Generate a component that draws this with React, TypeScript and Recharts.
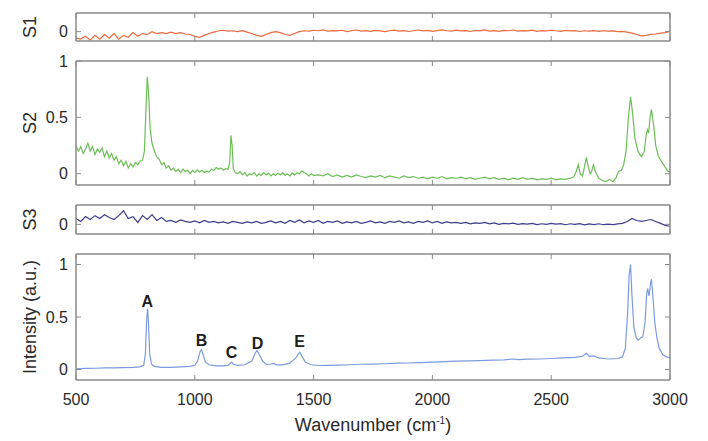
import React from 'react';
import { ComposedChart, Line, XAxis, YAxis, Scatter, Label } from 'recharts';

const FONT = '"Liberation Sans", Arial, sans-serif';
const AXIS = '#8a8a8a';
const TXT = '#2a2a2a';

const xTicks = [500, 1000, 1500, 2000, 2500, 3000];
const smallTicks = [0];
const s2Ticks = [0, 0.5, 1];
const mainTicks = [0, 0.5, 1];

// wavenumber grid (cm^-1) for the noisy residual spectra
const wn20 = [
  500, 520, 540, 560, 580, 600, 620, 640, 660, 680,
  700, 720, 740, 760, 780, 800, 820, 840, 860, 880,
  900, 920, 940, 960, 980, 1000, 1020, 1040, 1060, 1080,
  1100, 1120, 1140, 1160, 1180, 1200, 1220, 1240, 1260, 1280,
  1300, 1320, 1340, 1360, 1380, 1400, 1420, 1440, 1460, 1480,
  1500, 1520, 1540, 1560, 1580, 1600, 1620, 1640, 1660, 1680,
  1700, 1720, 1740, 1760, 1780, 1800, 1820, 1840, 1860, 1880,
  1900, 1920, 1940, 1960, 1980, 2000, 2020, 2040, 2060, 2080,
  2100, 2120, 2140, 2160, 2180, 2200, 2220, 2240, 2260, 2280,
  2300, 2320, 2340, 2360, 2380, 2400, 2420, 2440, 2460, 2480,
  2500, 2520, 2540, 2560, 2580, 2600, 2620, 2640, 2660, 2680,
  2700, 2720, 2740, 2760, 2780, 2800, 2820, 2840, 2860, 2880,
  2900, 2920, 2940, 2960, 2980, 3000,
];

const s1Values = [
  -0.07, -0.08, -0.05, -0.09, -0.04, -0.08, -0.03, -0.07, -0.02, -0.08,
  -0.04, -0.06, -0.01, -0.05, -0.02, -0.03, 0.0, -0.02, -0.01, -0.02,
  -0.005, -0.02, -0.01, -0.025, -0.03, -0.05, -0.06, -0.04, -0.02, -0.005,
  0.01, 0.015, 0.005, 0.01, 0.0, 0.01, -0.005, -0.02, -0.04, -0.05,
  -0.03, -0.01, 0.0, -0.01, -0.03, -0.04, -0.02, 0.0, 0.01, 0.005,
  0.015, 0.01, 0.02, 0.005, 0.012, 0.008, 0.015, 0.0, 0.01, 0.018,
  0.006, 0.012, 0.004, 0.014, 0.008, 0.0, 0.01, 0.016, 0.006, 0.012,
  0.002, 0.01, 0.018, 0.008, 0.014, 0.004, 0.012, 0.02, 0.01, 0.006,
  0.016, 0.008, 0.012, 0.002, 0.014, 0.008, 0.018, 0.006, 0.012, 0.004,
  0.014, 0.01, 0.018, 0.006, 0.012, 0.008, 0.016, 0.004, 0.012, 0.008,
  0.015, 0.01, 0.004, 0.014, 0.008, 0.012, 0.002, 0.01, 0.006, 0.012,
  0.004, 0.01, 0.006, 0.008, 0.0, 0.004, -0.005, -0.015, -0.03, -0.045,
  -0.04, -0.03, -0.025, -0.015, -0.01, 0.005,
];

const s3Values = [
  0.06, 0.03, 0.08, 0.05, 0.09, 0.06, 0.1, 0.07, 0.05, 0.09,
  0.14, 0.06, 0.08, 0.02, 0.09, 0.05, 0.1, 0.04, 0.07, 0.03,
  0.04, 0.02, 0.045, 0.03, 0.02, 0.035, 0.015, 0.04, 0.02, 0.03,
  0.015, 0.025, 0.01, 0.03, 0.02, 0.01, 0.025, 0.015, 0.03, 0.01,
  0.02, 0.035, 0.015, 0.03, 0.01, 0.04, 0.02, 0.045, 0.015, 0.035,
  0.02, 0.04, 0.01, 0.03, 0.02, 0.035, 0.01, 0.025, 0.015, 0.03,
  0.01, 0.02, 0.035, 0.015, 0.025, 0.01, 0.03, 0.02, 0.035, 0.015,
  0.025, 0.01, 0.03, 0.02, 0.035, 0.015, 0.03, 0.01, 0.025, 0.015,
  0.02, 0.01, 0.02, 0.005, 0.015, 0.01, 0.02, 0.005, 0.015, 0.0,
  0.01, 0.005, 0.012, 0.0, 0.008, 0.002, 0.01, -0.002, 0.006, 0.0,
  0.01, 0.002, 0.008, -0.004, 0.006, 0.0, 0.008, -0.005, 0.004, -0.002,
  0.006, -0.004, 0.002, -0.002, 0.004, 0.01, 0.03, 0.06, 0.04, 0.03,
  0.04, 0.05, 0.03, 0.01, -0.01, -0.02,
];

// S2: [wavenumber, intensity]
const s2Points: [number, number][] = [
  [500, 0.25], [510, 0.2], [520, 0.24], [530, 0.18], [540, 0.22], [550, 0.27], [560, 0.2], [570, 0.24],
  [580, 0.17], [590, 0.22], [600, 0.19], [610, 0.23], [620, 0.15], [630, 0.2], [640, 0.14], [650, 0.18],
  [660, 0.12], [670, 0.15], [680, 0.09], [690, 0.12], [700, 0.07], [710, 0.11], [720, 0.05], [730, 0.09],
  [740, 0.06], [750, 0.1], [760, 0.08], [770, 0.11], [780, 0.12], [788, 0.2], [794, 0.55], [800, 0.86],
  [806, 0.7], [812, 0.4], [820, 0.27], [830, 0.2], [840, 0.15], [850, 0.13], [860, 0.08], [870, 0.1],
  [880, 0.05], [890, 0.07], [900, 0.03], [910, 0.05], [920, 0.02], [930, 0.04], [940, 0.01], [950, 0.04],
  [960, 0.02], [970, 0.03], [980, 0.0], [990, 0.03], [1000, 0.01], [1010, 0.035], [1020, 0.015], [1030, 0.03],
  [1040, 0.01], [1050, 0.025], [1060, 0.015], [1070, 0.04], [1080, 0.03], [1090, 0.055], [1100, 0.04], [1110, 0.05],
  [1120, 0.03], [1130, 0.045], [1140, 0.04], [1147, 0.1], [1152, 0.34], [1157, 0.25], [1162, 0.05], [1170, 0.01],
  [1180, 0.0], [1190, 0.02], [1200, -0.01], [1210, 0.01], [1220, -0.02], [1230, 0.0], [1240, -0.01], [1250, 0.01],
  [1260, -0.02], [1270, 0.0], [1280, -0.015], [1290, 0.01], [1300, -0.01], [1310, 0.005], [1320, -0.02], [1330, 0.0],
  [1340, -0.015], [1350, 0.005], [1360, -0.01], [1370, 0.01], [1380, -0.015], [1390, 0.0], [1400, -0.02], [1410, 0.005],
  [1420, -0.01], [1430, 0.01], [1440, 0.0], [1450, 0.025], [1460, 0.01], [1470, 0.0], [1480, -0.02], [1490, 0.0],
  [1500, -0.015], [1520, -0.01], [1540, -0.02], [1560, 0.0], [1580, -0.025], [1600, -0.01], [1620, -0.03], [1640, -0.015],
  [1660, -0.03], [1680, -0.01], [1700, -0.025], [1720, -0.035], [1740, -0.02], [1760, -0.03], [1780, -0.015], [1800, -0.035],
  [1820, -0.02], [1840, -0.03], [1860, -0.04], [1880, -0.02], [1900, -0.035], [1920, -0.025], [1940, -0.04], [1960, -0.03],
  [1980, -0.045], [2000, -0.03], [2020, -0.04], [2040, -0.025], [2060, -0.045], [2080, -0.035], [2100, -0.04], [2120, -0.03],
  [2140, -0.045], [2160, -0.035], [2180, -0.05], [2200, -0.04], [2220, -0.03], [2240, -0.045], [2260, -0.035], [2280, -0.05],
  [2300, -0.04], [2320, -0.055], [2340, -0.04], [2360, -0.05], [2380, -0.035], [2400, -0.05], [2420, -0.04], [2440, -0.055],
  [2460, -0.045], [2480, -0.05], [2500, -0.04], [2520, -0.055], [2540, -0.045], [2560, -0.05], [2580, -0.04], [2595, -0.03],
  [2605, 0.02], [2614, 0.08], [2622, 0.0], [2632, -0.02], [2640, 0.06], [2648, 0.145], [2656, 0.06], [2664, 0.0],
  [2670, 0.02], [2678, 0.08], [2686, 0.02], [2700, -0.04], [2715, -0.06], [2730, -0.07], [2745, -0.05], [2760, -0.07],
  [2772, -0.04], [2783, 0.02], [2795, 0.03], [2805, 0.08], [2815, 0.2], [2825, 0.5], [2834, 0.68], [2842, 0.55],
  [2852, 0.32], [2865, 0.2], [2880, 0.15], [2892, 0.2], [2900, 0.35], [2905, 0.39], [2910, 0.36], [2916, 0.5],
  [2922, 0.57], [2930, 0.45], [2940, 0.25], [2952, 0.15], [2964, 0.11], [2976, 0.07], [2988, 0.03], [3000, 0.01],
];

// Reference spectrum: [wavenumber, intensity]
const mainPoints: [number, number][] = [
  [500, 0.005], [540, 0.01], [580, 0.012], [620, 0.015], [660, 0.015], [700, 0.018], [740, 0.02], [770, 0.025],
  [785, 0.04], [792, 0.15], [797, 0.45], [801, 0.58], [805, 0.45], [810, 0.15], [818, 0.05], [830, 0.03],
  [860, 0.02], [900, 0.02], [940, 0.025], [980, 0.03], [1000, 0.04], [1012, 0.08], [1022, 0.17], [1028, 0.19],
  [1035, 0.14], [1045, 0.07], [1060, 0.045], [1090, 0.035], [1120, 0.035], [1140, 0.04], [1150, 0.06], [1155, 0.07],
  [1162, 0.05], [1180, 0.04], [1210, 0.045], [1240, 0.08], [1255, 0.16], [1262, 0.18], [1270, 0.15], [1285, 0.08],
  [1300, 0.05], [1320, 0.05], [1331, 0.058], [1345, 0.045], [1370, 0.045], [1400, 0.06], [1425, 0.11], [1436, 0.15],
  [1442, 0.165], [1450, 0.13], [1465, 0.07], [1490, 0.045], [1520, 0.038], [1560, 0.04], [1600, 0.042], [1650, 0.045],
  [1700, 0.05], [1750, 0.052], [1800, 0.055], [1850, 0.06], [1900, 0.062], [1950, 0.065], [2000, 0.07], [2050, 0.075],
  [2100, 0.08], [2150, 0.082], [2200, 0.085], [2250, 0.09], [2300, 0.092], [2340, 0.1], [2360, 0.095], [2400, 0.098],
  [2450, 0.1], [2500, 0.105], [2550, 0.11], [2600, 0.115], [2630, 0.125], [2648, 0.155], [2660, 0.125], [2680, 0.13],
  [2700, 0.11], [2740, 0.1], [2780, 0.105], [2800, 0.12], [2812, 0.2], [2822, 0.55], [2828, 0.9], [2834, 1.0],
  [2840, 0.7], [2848, 0.4], [2858, 0.3], [2866, 0.28], [2876, 0.3], [2886, 0.31], [2895, 0.45], [2902, 0.72],
  [2906, 0.77], [2912, 0.7], [2918, 0.82], [2922, 0.86], [2928, 0.7], [2936, 0.45], [2945, 0.3], [2955, 0.2],
  [2970, 0.14], [2985, 0.12], [3000, 0.11],
];

const peakLabels = ['A', 'B', 'C', 'D', 'E'];
const peakWn = [800, 1028, 1155, 1264, 1441];
const peakLabelY = [0.65, 0.28, 0.165, 0.25, 0.27];

const toRows = (xs: number[], ys: number[]) => xs.map((x, i) => ({ x, y: ys[i] }));
const pairRows = (pts: [number, number][]) => pts.map(([x, y]) => ({ x, y }));

const renderBottomTick = (showLabel: boolean) => (p: any) => {
  const { x, y, payload } = p;
  return (
    <g>
      <line x1={x} x2={x} y1={y} y2={y - 5} stroke={AXIS} strokeWidth={1} />
      {showLabel && (
        <text x={x} y={y + 25} textAnchor="middle" fontSize={16} fontFamily={FONT} fill={TXT}>
          {payload.value}
        </text>
      )}
    </g>
  );
};
const renderTopTick = (p: any) => {
  const { x, y } = p;
  return <line x1={x} x2={x} y1={y} y2={y + 5} stroke={AXIS} strokeWidth={1} />;
};
const renderLeftTick = (p: any) => {
  const { x, y, payload } = p;
  return (
    <g>
      <line x1={x} x2={x + 5} y1={y} y2={y} stroke={AXIS} strokeWidth={1} />
      <text x={x - 8} y={y + 5.5} textAnchor="end" fontSize={16} fontFamily={FONT} fill={TXT}>
        {payload.value}
      </text>
    </g>
  );
};
const renderRightTick = (p: any) => {
  const { x, y } = p;
  return <line x1={x} x2={x - 5} y1={y} y2={y} stroke={AXIS} strokeWidth={1} />;
};

const renderLetter = (p: any) => (
  <text x={p.cx} y={p.cy + 6} textAnchor="middle" fontSize={16} fontWeight="bold" fontFamily={FONT} fill="#1e1e1e">
    {p.payload.label}
  </text>
);

type PanelProps = {
  boxTop: number;
  boxH: number;
  domain: [number, number];
  yTicks: number[];
  yLabel: string;
  rows: { x: number; y: number }[];
  color: string;
  showX?: boolean;
  annotations?: { x: number; y: number; label: string }[];
};

const axisLineStyle = { stroke: AXIS, strokeWidth: 1.5 };
const TOP_PAD = 12; // margin.top (11) + top axis height (1)

const Panel = ({ boxTop, boxH, domain, yTicks, yLabel, rows, color, showX = false, annotations }: PanelProps) => {
  const margin = { top: TOP_PAD - 1, right: 37, bottom: showX ? 59 : 4, left: 46 };
  const height = boxH + TOP_PAD + margin.bottom + 1;
  return (
    <div style={{ position: 'absolute', left: 0, top: boxTop - TOP_PAD, width: 708, height }}>
      <ComposedChart width={708} height={height} margin={margin}>
        <XAxis
          xAxisId="b"
          type="number"
          dataKey="x"
          domain={[500, 3000]}
          ticks={xTicks}
          interval={0}
          allowDataOverflow
          height={1}
          tickSize={0}
          tickMargin={0}
          tickLine={false}
          axisLine={axisLineStyle}
          tick={renderBottomTick(showX)}
        >
          {showX && (
            <Label
              content={(lp: any) => {
                const vb = lp.viewBox || { x: 76, y: 0, width: 594 };
                return (
                  <text x={vb.x + vb.width / 2} y={vb.y + 51} textAnchor="middle" fontSize={18} fontFamily={FONT} fill={TXT}>
                    Wavenumber (cm
                    <tspan dy={-7} fontSize={10}>-1</tspan>
                    <tspan dy={7}>)</tspan>
                  </text>
                );
              }}
            />
          )}
        </XAxis>
        <XAxis
          xAxisId="t"
          orientation="top"
          type="number"
          dataKey="x"
          domain={[500, 3000]}
          ticks={xTicks}
          interval={0}
          allowDataOverflow
          height={1}
          tickSize={0}
          tickMargin={0}
          tickLine={false}
          axisLine={axisLineStyle}
          tick={renderTopTick}
        />
        <YAxis
          yAxisId="l"
          type="number"
          domain={domain}
          ticks={yTicks}
          interval={0}
          allowDataOverflow
          width={30}
          tickSize={0}
          tickMargin={0}
          tickLine={false}
          axisLine={axisLineStyle}
          tick={renderLeftTick}
        >
          <Label
            content={(lp: any) => {
              const vb = lp.viewBox || { x: 46, y: TOP_PAD, height: boxH };
              const cy = vb.y + vb.height / 2;
              return (
                <text x={36} y={cy} transform={`rotate(-90 36 ${cy})`} textAnchor="middle" fontSize={18} fontFamily={FONT} fill={TXT}>
                  {yLabel}
                </text>
              );
            }}
          />
        </YAxis>
        <YAxis
          yAxisId="r"
          orientation="right"
          type="number"
          domain={domain}
          ticks={yTicks}
          interval={0}
          allowDataOverflow
          width={1}
          tickSize={0}
          tickMargin={0}
          tickLine={false}
          axisLine={axisLineStyle}
          tick={renderRightTick}
        />
        <Line
          xAxisId="b"
          yAxisId="l"
          data={rows}
          dataKey="y"
          type="linear"
          stroke={color}
          strokeWidth={1.2}
          dot={false}
          isAnimationActive={false}
        />
        {annotations && (
          <Scatter
            xAxisId="b"
            yAxisId="l"
            data={annotations}
            dataKey="y"
            shape={renderLetter}
            isAnimationActive={false}
          />
        )}
      </ComposedChart>
    </div>
  );
};

export default function App() {
  const annotations = peakLabels.map((label, i) => ({ x: peakWn[i], y: peakLabelY[i], label }));
  return (
    <div style={{ position: 'absolute', left: 0, top: 0, width: 708, height: 441, background: '#fff', fontFamily: FONT }}>
      <Panel boxTop={13} boxH={28} domain={[-0.1, 0.2]} yTicks={smallTicks} yLabel="S1" rows={toRows(wn20, s1Values)} color="#ec6a3e" />
      <Panel boxTop={61} boxH={124} domain={[-0.1, 1]} yTicks={s2Ticks} yLabel="S2" rows={pairRows(s2Points)} color="#6cbf57" />
      <Panel boxTop={205} boxH={29} domain={[-0.1, 0.2]} yTicks={smallTicks} yLabel="S3" rows={toRows(wn20, s3Values)} color="#3f3d8c" />
      <Panel
        boxTop={254}
        boxH={126}
        domain={[-0.1, 1.1]}
        yTicks={mainTicks}
        yLabel="Intensity (a.u.)"
        rows={pairRows(mainPoints)}
        color="#7b9be0"
        showX
        annotations={annotations}
      />
    </div>
  );
}
